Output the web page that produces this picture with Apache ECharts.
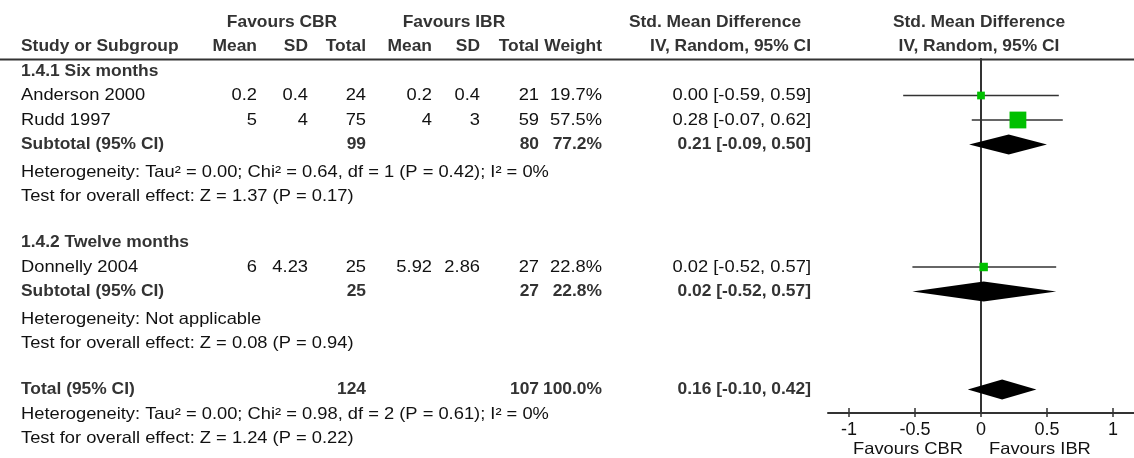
<!DOCTYPE html>
<html>
<head>
<meta charset="utf-8">
<title>CBR vs IBR - Std. Mean Difference</title>
<script src="https://cdn.jsdelivr.net/npm/echarts@6/dist/echarts.min.js"></script>
<style>
  html, body { margin: 0; padding: 0; background: #fff; }
  #chart { width: 1134px; height: 458px; }
</style>
</head>
<body>
<div id="chart"></div>
<script>
// ---- study data ----
var groupNames = ['1.4.1 Six months', '1.4.2 Twelve months'];
var studyNames = ['Anderson 2000', 'Rudd 1997', 'Donnelly 2004'];
var studyGroup = [0, 0, 1];
var cbrMean = [0.2, 5, 6];
var cbrSD = [0.4, 4, 4.23];
var cbrTotal = [24, 75, 25];
var ibrMean = [0.2, 4, 5.92];
var ibrSD = [0.4, 3, 2.86];
var ibrTotal = [21, 59, 27];
var studyWeight = [19.7, 57.5, 22.8];
var studySMD = [0.00, 0.28, 0.02];
var studyLow = [-0.59, -0.07, -0.52];
var studyHigh = [0.59, 0.62, 0.57];

// ---- subgroup pooled ----
var subCbrTotal = [99, 25];
var subIbrTotal = [80, 27];
var subWeight = [77.2, 22.8];
var subSMD = [0.21, 0.02];
var subLow = [-0.09, -0.52];
var subHigh = [0.50, 0.57];
var subHeterogeneity = [
  'Heterogeneity: Tau\u00b2 = 0.00; Chi\u00b2 = 0.64, df = 1 (P = 0.42); I\u00b2 = 0%',
  'Heterogeneity: Not applicable'
];
var subOverall = [
  'Test for overall effect: Z = 1.37 (P = 0.17)',
  'Test for overall effect: Z = 0.08 (P = 0.94)'
];

// ---- overall pooled ----
var totalN = [124, 107];
var totalWeight = 100.0;
var totalCI = [-0.10, 0.16, 0.42];
var totalHeterogeneity = 'Heterogeneity: Tau\u00b2 = 0.00; Chi\u00b2 = 0.98, df = 2 (P = 0.61); I\u00b2 = 0%';
var totalOverall = 'Test for overall effect: Z = 1.24 (P = 0.22)';

// ---- axis ----
var tickValues = [-1, -0.5, 0, 0.5, 1];
var axisCaptions = ['Favours CBR', 'Favours IBR'];
var captionAt = [-0.5, 0.5];

// ---- layout ----
var W = 1134, H = 458;
var ROW0 = 22, ROW_H = 24.5;      // pixel y of row 0, row pitch
var NOTE_GAP = 3;                 // subgroup notes sit a little lower
var GRID_LEFT = 828, GRID_TOP = 59, AXIS_Y = 413;
var FONT = '"Liberation Sans", Arial, sans-serif';
var FONT_SIZE = 16.5;
var REG_SX = 1.11, BOLD_SX = 1.055;
var TEXT_COLOR = '#111', BOLD_COLOR = '#333', LINE_COLOR = '#333';
var COL = { label: 21, cbrMean: 257, cbrSD: 308, cbrN: 366, ibrMean: 432, ibrSD: 480, ibrN: 539, weight: 602, ci: 811 };

// build table rows (index = row slot)
var rows = [{ kind: 'head1' }, { kind: 'head2' }];
groupNames.forEach(function (g, gi) {
  rows.push({ kind: 'group', g: gi });
  studyNames.forEach(function (s, i) {
    if (studyGroup[i] === gi) rows.push({ kind: 'study', i: i });
  });
  rows.push({ kind: 'subtotal', g: gi });
  rows.push({ kind: 'note', text: subHeterogeneity[gi], gap: NOTE_GAP });
  rows.push({ kind: 'note', text: subOverall[gi], gap: NOTE_GAP });
  rows.push({ kind: 'blank' });
});
rows.push({ kind: 'total' });
rows.push({ kind: 'note', text: totalHeterogeneity, gap: 0 });
rows.push({ kind: 'note', text: totalOverall, gap: 0 });

function slotOf(kind, key, val) {
  for (var k = 0; k < rows.length; k++) if (rows[k].kind === kind && rows[k][key] === val) return k;
  return -1;
}
function ciText(lo, est, hi) {
  return est.toFixed(2) + ' [' + lo.toFixed(2) + ', ' + hi.toFixed(2) + ']';
}

var studyLines = studyNames.map(function (s, i) { return [studyLow[i], studyHigh[i], slotOf('study', 'i', i)]; });
var studyBoxes = studyNames.map(function (s, i) { return [studySMD[i], slotOf('study', 'i', i), studyWeight[i]]; });
var diamonds = groupNames.map(function (g, gi) { return [subLow[gi], subSMD[gi], subHigh[gi], slotOf('subtotal', 'g', gi)]; });
diamonds.push([totalCI[0], totalCI[1], totalCI[2], slotOf('total')]);

function cell(text, x, y, align, bold) {
  return {
    type: 'text', x: x, y: y, scaleX: bold ? BOLD_SX : REG_SX,
    style: {
      text: String(text), x: 0, y: 0, align: align, verticalAlign: 'middle',
      fontFamily: FONT, fontSize: FONT_SIZE, fontWeight: bold ? 'bold' : 'normal',
      fill: bold ? BOLD_COLOR : TEXT_COLOR
    }
  };
}

function renderRow(params, api) {
  var r = rows[params.dataIndex];
  var y = api.coord([0, params.dataIndex])[1];
  var zx = api.coord([0, params.dataIndex])[0];
  var c = [];
  if (r.kind === 'head1') {
    c.push(cell('Favours CBR', 282, y, 'center', true));
    c.push(cell('Favours IBR', 454, y, 'center', true));
    c.push(cell('Std. Mean Difference', 715, y, 'center', true));
    c.push(cell('Std. Mean Difference', zx - 2, y, 'center', true));
  } else if (r.kind === 'head2') {
    c.push(cell('Study or Subgroup', COL.label, y, 'left', true));
    c.push(cell('Mean', COL.cbrMean, y, 'right', true));
    c.push(cell('SD', COL.cbrSD, y, 'right', true));
    c.push(cell('Total', COL.cbrN, y, 'right', true));
    c.push(cell('Mean', COL.ibrMean, y, 'right', true));
    c.push(cell('SD', COL.ibrSD, y, 'right', true));
    c.push(cell('Total', COL.ibrN, y, 'right', true));
    c.push(cell('Weight', COL.weight, y, 'right', true));
    c.push(cell('IV, Random, 95% CI', COL.ci, y, 'right', true));
    c.push(cell('IV, Random, 95% CI', zx - 2, y, 'center', true));
  } else if (r.kind === 'group') {
    c.push(cell(groupNames[r.g], COL.label, y, 'left', true));
  } else if (r.kind === 'study') {
    var i = r.i;
    c.push(cell(studyNames[i], COL.label, y, 'left', false));
    c.push(cell(cbrMean[i], COL.cbrMean, y, 'right', false));
    c.push(cell(cbrSD[i], COL.cbrSD, y, 'right', false));
    c.push(cell(cbrTotal[i], COL.cbrN, y, 'right', false));
    c.push(cell(ibrMean[i], COL.ibrMean, y, 'right', false));
    c.push(cell(ibrSD[i], COL.ibrSD, y, 'right', false));
    c.push(cell(ibrTotal[i], COL.ibrN, y, 'right', false));
    c.push(cell(studyWeight[i].toFixed(1) + '%', COL.weight, y, 'right', false));
    c.push(cell(ciText(studyLow[i], studySMD[i], studyHigh[i]), COL.ci, y, 'right', false));
  } else if (r.kind === 'subtotal') {
    var g = r.g;
    c.push(cell('Subtotal (95% CI)', COL.label, y, 'left', true));
    c.push(cell(subCbrTotal[g], COL.cbrN, y, 'right', true));
    c.push(cell(subIbrTotal[g], COL.ibrN, y, 'right', true));
    c.push(cell(subWeight[g].toFixed(1) + '%', COL.weight, y, 'right', true));
    c.push(cell(ciText(subLow[g], subSMD[g], subHigh[g]), COL.ci, y, 'right', true));
  } else if (r.kind === 'total') {
    c.push(cell('Total (95% CI)', COL.label, y, 'left', true));
    c.push(cell(totalN[0], COL.cbrN, y, 'right', true));
    c.push(cell(totalN[1], COL.ibrN, y, 'right', true));
    c.push(cell(totalWeight.toFixed(1) + '%', COL.weight, y, 'right', true));
    c.push(cell(ciText(totalCI[0], totalCI[1], totalCI[2]), COL.ci, y, 'right', true));
  } else if (r.kind === 'note') {
    c.push(cell(r.text, COL.label, y + r.gap, 'left', false));
  }
  return { type: 'group', children: c };
}

var chart = echarts.init(document.getElementById('chart'), null, { renderer: 'canvas' });

var option = {
  animation: false,
  backgroundColor: '#fff',
  grid: { left: GRID_LEFT, right: 0, top: GRID_TOP, bottom: H - AXIS_Y },
  xAxis: [{
    type: 'value', min: -1.16, max: 1.16,
    axisLine: { onZero: false, lineStyle: { color: LINE_COLOR, width: 2 } },
    axisTick: { length: 4, customValues: tickValues, lineStyle: { color: LINE_COLOR, width: 1.5 } },
    axisLabel: { customValues: tickValues, margin: 8, fontFamily: FONT, fontSize: 18, color: TEXT_COLOR },
    splitLine: { show: false }
  }, {
    type: 'value', min: -1.16, max: 1.16, position: 'bottom',
    axisLine: { show: false },
    axisTick: { inside: true, length: 5, customValues: tickValues, lineStyle: { color: LINE_COLOR, width: 1.5 } },
    axisLabel: { show: false },
    splitLine: { show: false }
  }],
  yAxis: {
    type: 'value', inverse: true,
    min: (GRID_TOP - ROW0) / ROW_H, max: (AXIS_Y - ROW0) / ROW_H,
    axisLine: { show: true, onZero: true, lineStyle: { color: LINE_COLOR, width: 2 } },
    axisTick: { show: false }, axisLabel: { show: false }, splitLine: { show: false }
  },
  graphic: [{
    type: 'line', shape: { x1: 0, y1: GRID_TOP + 0.5, x2: W, y2: GRID_TOP + 0.5 },
    style: { stroke: LINE_COLOR, lineWidth: 2 }
  }],
  series: [{
    name: 'table', type: 'custom', clip: false, silent: true,
    data: rows.map(function (r, k) { return [0, k]; }),
    renderItem: renderRow
  }, {
    name: 'ci', type: 'custom', clip: false,
    data: studyLines,
    renderItem: function (params, api) {
      var a = api.coord([api.value(0), api.value(2)]);
      var b = api.coord([api.value(1), api.value(2)]);
      return { type: 'line', shape: { x1: a[0], y1: a[1], x2: b[0], y2: b[1] },
        style: { stroke: LINE_COLOR, lineWidth: 1.6 } };
    }
  }, {
    name: 'study', type: 'custom', clip: false,
    data: studyBoxes,
    renderItem: function (params, api) {
      var p = api.coord([api.value(0), api.value(1)]);
      var s = 3 + 0.24 * api.value(2);
      return { type: 'rect', shape: { x: p[0] - s / 2, y: p[1] - s / 2, width: s, height: s },
        style: { fill: '#00c000' } };
    }
  }, {
    name: 'pooled', type: 'custom', clip: false,
    data: diamonds,
    renderItem: function (params, api) {
      var l = api.coord([api.value(0), api.value(3)]);
      var m = api.coord([api.value(1), api.value(3)]);
      var r = api.coord([api.value(2), api.value(3)]);
      var h = 10;
      return { type: 'polygon',
        shape: { points: [[l[0], l[1]], [m[0], m[1] - h], [r[0], r[1]], [m[0], m[1] + h]] },
        style: { fill: '#000' } };
    }
  }, {
    name: 'captions', type: 'custom', clip: false, silent: true,
    data: captionAt.map(function (v, i) { return [v, i]; }),
    renderItem: function (params, api) {
      var x = api.coord([api.value(0), 0])[0];
      return cell(axisCaptions[params.dataIndex], x - 7, AXIS_Y + 36, 'center', false);
    }
  }]
};

chart.setOption(option);
</script>
</body>
</html>
